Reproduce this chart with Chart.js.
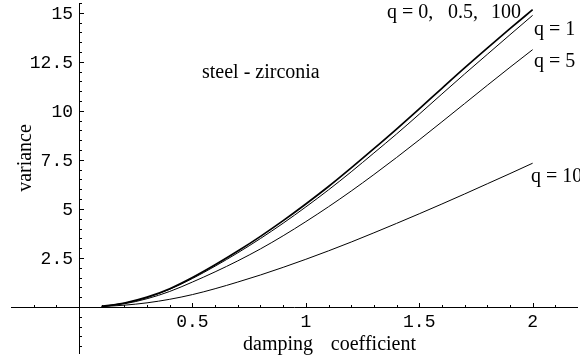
<!DOCTYPE html>
<html>
<head>
<meta charset="utf-8">
<script src="https://cdn.jsdelivr.net/npm/chart.js@4/dist/chart.umd.min.js"></script>
<style>
    html, body { margin: 0; padding: 0; background: #fff; }
    #wrap { width: 580px; height: 361px; }
</style>
</head>
<body>
<div id="wrap"><canvas id="chart" width="580" height="361"></canvas></div>
<script>
    // damping coefficient samples
    const damping = [0.1, 0.2, 0.3, 0.4, 0.5, 0.6, 0.7, 0.8, 0.9, 1.0,
                     1.1, 1.2, 1.3, 1.4, 1.5, 1.6, 1.7, 1.8, 1.9, 2.0];

    // variance, q = 0, 0.5, 100 (curves lie on top of each other)
    const varQ0 = [0.03, 0.20, 0.50, 0.93, 1.50, 2.15, 2.85, 3.60, 4.40, 5.25,
                   6.14, 7.09, 8.07, 9.07, 10.10, 11.15, 12.19, 13.20, 14.19, 15.16];
    // variance, q = 1
    const varQ1 = [0.03, 0.19, 0.48, 0.90, 1.45, 2.08, 2.76, 3.49, 4.27, 5.10,
                   5.97, 6.89, 7.85, 8.82, 9.83, 10.86, 11.88, 12.88, 13.88, 14.87];
    // variance, q = 5
    const varQ5 = [0.02, 0.16, 0.42, 0.79, 1.27, 1.79, 2.35, 2.96, 3.63, 4.35,
                   5.11, 5.91, 6.75, 7.62, 8.52, 9.44, 10.37, 11.30, 12.22, 13.12];
    // variance, q = 10
    const varQ10 = [0.02, 0.09, 0.21, 0.39, 0.63, 0.93, 1.27, 1.63, 2.02, 2.43,
                    2.86, 3.31, 3.78, 4.26, 4.75, 5.25, 5.76, 6.28, 6.80, 7.33];

    const xTickValues = [0.5, 1, 1.5, 2];
    const xTickLabels = ['0.5', '1', '1.5', '2'];
    const yTickValues = [2.5, 5, 7.5, 10, 12.5, 15];
    const yTickLabels = ['2.5', '5', '7.5', '10', '12.5', '15'];

    function toPoints(ys) {
        return damping.map(function(x, i) { return { x: x, y: ys[i] }; });
    }

    const SERIF = '20px "Liberation Serif", "Times New Roman", serif';
    const MONO = '18px "Liberation Mono", "Courier New", monospace';

    /**
     * Mathematica style axes crossing at the origin
     */
    const originAxes = {
        id: 'originAxes',
        beforeDatasetsDraw: function(chart) {
            const ctx = chart.ctx;
            const area = chart.chartArea;
            const sx = chart.scales.x;
            const sy = chart.scales.y;
            const x0 = Math.round(sx.getPixelForValue(0)) + 0.5;
            const y0 = Math.round(sy.getPixelForValue(0)) + 0.5;

            ctx.save();
            ctx.strokeStyle = '#000';
            ctx.lineWidth = 1;
            ctx.beginPath();
            ctx.moveTo(area.left, y0);
            ctx.lineTo(area.right, y0);
            ctx.moveTo(x0, area.top);
            ctx.lineTo(x0, area.bottom);

            // x ticks every 0.1, major every 0.5
            for (let i = -2; i <= 21; i++) {
                if (i === 0) continue;
                const px = Math.round(sx.getPixelForValue(i / 10)) + 0.5;
                const len = (i % 5 === 0) ? 4.5 : 2.5;
                ctx.moveTo(px, y0);
                ctx.lineTo(px, y0 - len);
            }
            // y ticks every 0.5, major every 2.5
            for (let i = -4; i <= 31; i++) {
                if (i === 0) continue;
                const py = Math.round(sy.getPixelForValue(i / 2)) + 0.5;
                const len = (i % 5 === 0) ? 4.5 : 2.5;
                ctx.moveTo(x0, py);
                ctx.lineTo(x0 + len, py);
            }
            ctx.stroke();

            ctx.fillStyle = '#000';
            ctx.font = MONO;
            ctx.textAlign = 'center';
            ctx.textBaseline = 'alphabetic';
            xTickValues.forEach(function(v, i) {
                ctx.fillText(xTickLabels[i], sx.getPixelForValue(v), y0 + 19.5);
            });
            ctx.textAlign = 'right';
            ctx.textBaseline = 'middle';
            yTickValues.forEach(function(v, i) {
                ctx.fillText(yTickLabels[i], x0 - 6.5, sy.getPixelForValue(v) + 1);
            });
            ctx.restore();
        },
        afterDraw: function(chart) {
            const ctx = chart.ctx;
            ctx.save();
            ctx.fillStyle = '#000';
            ctx.font = SERIF;
            ctx.textBaseline = 'alphabetic';

            // axis labels
            ctx.textAlign = 'right';
            ctx.fillText('damping', 313, 350);
            ctx.fillText('coefficient', 416, 350);

            ctx.save();
            ctx.translate(26, 158);
            ctx.rotate(-Math.PI / 2);
            ctx.textAlign = 'center';
            ctx.textBaseline = 'middle';
            ctx.fillText('variance', 0, 0);
            ctx.restore();

            // annotations
            ctx.textAlign = 'left';
            ctx.fillText('steel - zirconia', 202, 78);
            ctx.fillText('q = 0,', 387, 18);
            ctx.fillText('0.5,', 448, 18);
            ctx.fillText('100', 491, 18);
            ctx.fillText('q = 1', 534, 34.5);
            ctx.fillText('q = 5', 534, 66.5);
            ctx.fillText('q = 10', 531, 181.5);
            ctx.restore();
        }
    };

    function curve(label, ys, width) {
        return {
            label: label,
            data: toPoints(ys),
            borderColor: '#000',
            borderWidth: width,
            pointRadius: 0,
            fill: false,
            cubicInterpolationMode: 'monotone'
        };
    }

    new Chart(document.getElementById('chart'), {
        type: 'line',
        data: {
            datasets: [
                curve('q = 0, 0.5, 100', varQ0, 1.7),
                curve('q = 1', varQ1, 1),
                curve('q = 5', varQ5, 1),
                curve('q = 10', varQ10, 1)
            ]
        },
        options: {
            responsive: false,
            animation: false,
            devicePixelRatio: 1,
            layout: { padding: { left: 11, right: 2, top: 3, bottom: 7 } },
            scales: {
                x: { type: 'linear', min: -0.3, max: 2.2, display: false },
                y: { type: 'linear', min: -2.4, max: 15.5, display: false }
            },
            plugins: {
                legend: { display: false },
                tooltip: { enabled: false }
            }
        },
        plugins: [originAxes]
    });
</script>
</body>
</html>
